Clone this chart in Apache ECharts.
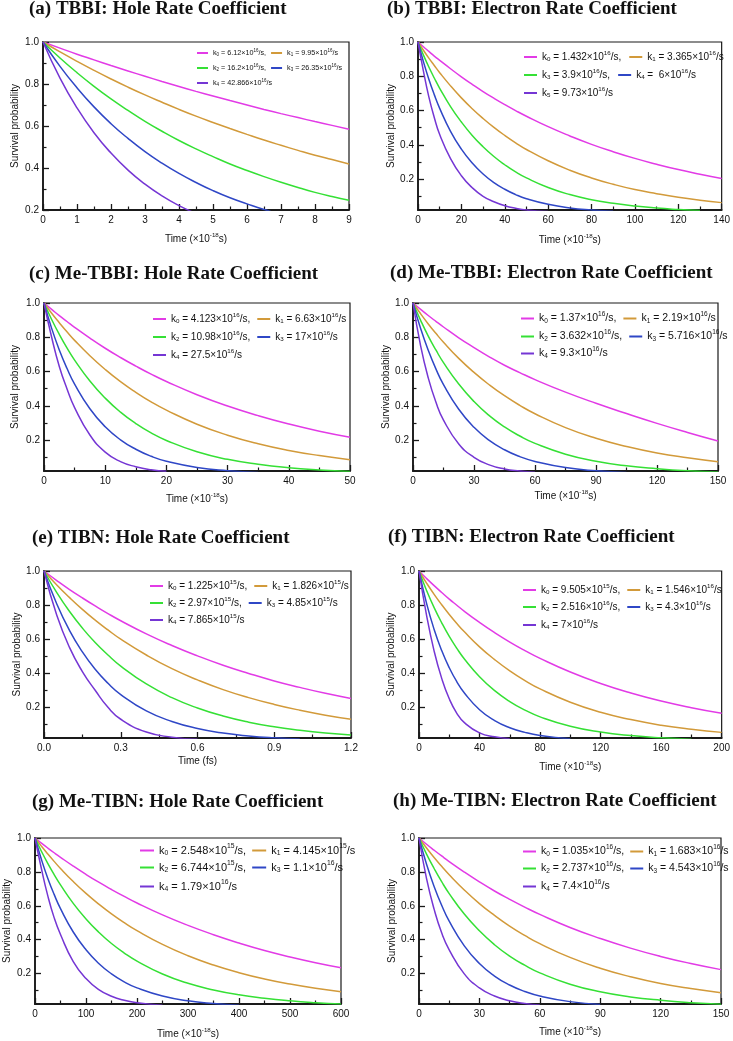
<!DOCTYPE html>
<html><head><meta charset="utf-8">
<script src="https://cdn.jsdelivr.net/npm/echarts@6/dist/echarts.min.js"></script>
<style>html,body{margin:0;padding:0;background:#fff}#c{width:733px;height:1041px}</style>
</head><body><div id="c"></div>
<script>
// ---------------- DATA ----------------
const titles = [
  '(a) TBBI: Hole Rate Coefficient', '(b) TBBI: Electron Rate Coefficient',
  '(c) Me-TBBI: Hole Rate Coefficient', '(d) Me-TBBI: Electron Rate Coefficient',
  '(e) TIBN: Hole Rate Coefficient', '(f) TIBN: Electron Rate Coefficient',
  '(g) Me-TIBN: Hole Rate Coefficient', '(h) Me-TIBN: Electron Rate Coefficient'
];
const yAxisName = 'Survival probability';
const xNames = ['Time (×10^-18s)','Time (×10^-18s)','Time (×10^-18s)','Time (×10^-18s)','Time (fs)','Time (×10^-18s)','Time (×10^-18s)','Time (×10^-18s)'];
const xMaxs = [9, 140, 50, 150, 1.2, 200, 600, 150];
const xSteps = [1, 20, 10, 30, 0.3, 40, 100, 30];
const yMins = [0.2, 0.02, 0.02, 0.02, 0.02, 0.02, 0.02, 0.02];
const yMajor = [0.2, 0.4, 0.6, 0.8, 1.0];
const yMinorFull = [0.1, 0.3, 0.5, 0.7, 0.9];

const legendA = ['k_0 = 6.12×10^16/s,', 'k_1 = 9.95×10^16/s', 'k_2 = 16.2×10^16/s,', 'k_3 = 26.35×10^16/s', 'k_4 = 42.866×10^16/s'];
const legendB = ['k_0 = 1.432×10^16/s,', 'k_1 = 3.365×10^16/s', 'k_3 = 3.9×10^16/s,', 'k_4 =  6×10^16/s', 'k_5 = 9.73×10^16/s'];
const legendC = ['k_0 = 4.123×10^16/s,', 'k_1 = 6.63×10^16/s', 'k_2 = 10.98×10^16/s,', 'k_3 = 17×10^16/s', 'k_4 = 27.5×10^16/s'];
const legendD = ['k_0 = 1.37×10^16/s,', 'k_1 = 2.19×10^16/s', 'k_2 = 3.632×10^16/s,', 'k_3 = 5.716×10^16/s', 'k_4 = 9.3×10^16/s'];
const legendE = ['k_0 = 1.225×10^15/s,', 'k_1 = 1.826×10^15/s', 'k_2 = 2.97×10^15/s,', 'k_3 = 4.85×10^15/s', 'k_4 = 7.865×10^15/s'];
const legendF = ['k_0 = 9.505×10^15/s,', 'k_1 = 1.546×10^16/s', 'k_2 = 2.516×10^16/s,', 'k_3 = 4.3×10^16/s', 'k_4 = 7×10^16/s'];
const legendG = ['k_0 = 2.548×10^15/s,', 'k_1 = 4.145×10^15/s', 'k_2 = 6.744×10^15/s,', 'k_3 = 1.1×10^16/s', 'k_4 = 1.79×10^16/s'];
const legendH = ['k_0 = 1.035×10^16/s,', 'k_1 = 1.683×10^16/s', 'k_2 = 2.737×10^16/s,', 'k_3 = 4.543×10^16/s', 'k_4 = 7.4×10^16/s'];

const timeA = [0,0.5,1,1.5,2,2.5,3,3.5,4,4.5,5,5.5,6,6.5,7,7.5,8,8.5,9];
const a0 = [1,0.971,0.942,0.915,0.888,0.862,0.837,0.812,0.788,0.765,0.743,0.721,0.700,0.679,0.659,0.640,0.621,0.603,0.585];
const a1 = [1,0.953,0.908,0.865,0.824,0.785,0.748,0.713,0.679,0.647,0.617,0.588,0.560,0.533,0.508,0.484,0.461,0.440,0.419];
const a2 = [1,0.924,0.854,0.789,0.729,0.674,0.622,0.575,0.531,0.491,0.454,0.419,0.388,0.359,0.332,0.307,0.284,0.264,0.246];
const a3 = [1,0.884,0.782,0.691,0.611,0.541,0.478,0.423,0.374,0.331,0.292,0.258,0.229,0.202,0.179,null,null,null,null];
const a4 = [1,0.828,0.686,0.568,0.471,0.390,0.323,0.267,0.221,0.183,null,null,null,null,null,null,null,null,null];

const timeB = [0,2.5,5,7.5,10,15,20,25,30,35,40,45,50,60,70,80,90,100,110,120,130,140];
const b0 = [1,0.972,0.945,0.918,0.893,0.844,0.797,0.753,0.711,0.672,0.635,0.600,0.567,0.506,0.452,0.403,0.360,0.321,0.287,0.256,0.229,0.204];
const b1 = [1,0.952,0.906,0.863,0.821,0.744,0.674,0.611,0.554,0.502,0.455,0.412,0.373,0.307,0.252,0.207,0.170,0.139,0.115,0.094,0.077,0.063];
const b2 = [1,0.924,0.854,0.790,0.730,0.623,0.533,0.455,0.389,0.332,0.284,0.242,0.207,0.151,0.110,0.080,0.059,0.043,0.031,0.023,0.017,null];
const b3 = [1,0.885,0.783,0.693,0.613,0.479,0.375,0.294,0.230,0.180,0.141,0.110,0.086,0.053,0.032,0.020,0.012,null,null,null,null,null];
const b4 = [1,0.83,0.68,0.56,0.46,0.32,0.22,0.15,0.10,0.068,0.045,0.030,0.020,0.011,null,null,null,null,null,null,null,null];

const timeC = [0,1.25,2.5,3.75,5,7.5,10,12.5,15,17.5,20,25,30,35,40,45,50];
const c0 = [1,0.963,0.926,0.892,0.858,0.795,0.736,0.682,0.632,0.585,0.542,0.465,0.399,0.343,0.294,0.252,0.217];
const c1 = [1,0.940,0.885,0.832,0.782,0.692,0.612,0.541,0.479,0.423,0.375,0.293,0.229,0.179,0.140,0.110,0.086];
const c2 = [1,0.904,0.817,0.738,0.667,0.545,0.445,0.363,0.297,0.242,0.198,0.132,0.088,0.059,0.039,0.026,0.017];
const c3 = [1,0.852,0.726,0.619,0.527,0.383,0.278,0.202,0.147,0.106,0.077,0.041,0.022,0.011,null,null,null];
const c4 = [1,0.80,0.63,0.50,0.39,0.23,0.13,0.075,0.045,0.027,0.018,null,null,null,null,null,null];

const timeD = [0,3.75,7.5,11.25,15,22.5,30,37.5,45,52.5,60,75,90,105,120,135,150];
const d0 = [1,0.963,0.927,0.893,0.860,0.797,0.740,0.686,0.637,0.594,0.553,0.480,0.415,0.355,0.298,0.245,0.195];
const d1 = [1,0.937,0.878,0.823,0.771,0.677,0.595,0.523,0.459,0.403,0.354,0.273,0.211,0.163,0.125,0.097,0.074];
const d2 = [1,0.899,0.807,0.726,0.652,0.527,0.425,0.343,0.277,0.224,0.181,0.118,0.077,0.050,0.033,0.021,0.014];
const d3 = [1,0.851,0.724,0.616,0.524,0.380,0.275,0.199,0.144,0.104,0.076,0.040,0.021,0.011,null,null,null];
const d4 = [1,0.75,0.563,0.422,0.317,0.178,0.100,0.056,0.032,0.020,0.012,null,null,null,null,null,null];

const timeE = [0,0.05,0.1,0.15,0.2,0.25,0.3,0.4,0.5,0.6,0.7,0.8,0.9,1.0,1.1,1.2];
const e0 = [1,0.944,0.891,0.842,0.795,0.750,0.708,0.631,0.563,0.502,0.447,0.399,0.355,0.317,0.282,0.252];
const e1 = [1,0.918,0.844,0.775,0.712,0.654,0.600,0.507,0.427,0.361,0.304,0.257,0.217,0.183,0.154,0.130];
const e2 = [1,0.873,0.762,0.665,0.580,0.507,0.442,0.337,0.257,0.196,0.149,0.113,0.086,0.066,0.050,0.038];
const e3 = [1,0.806,0.650,0.525,0.423,0.341,0.275,0.179,0.117,0.076,0.049,0.032,0.021,0.014,null,null];
const e4 = [1,0.74,0.55,0.41,0.30,0.20,0.13,0.055,0.025,0.012,null,null,null,null,null,null];

const timeF = [0,5,10,15,20,25,30,40,50,60,70,80,100,120,140,160,180,200];
const f0 = [1,0.956,0.914,0.874,0.835,0.799,0.763,0.698,0.638,0.583,0.533,0.487,0.407,0.340,0.284,0.237,0.198,0.165];
const f1 = [1,0.929,0.863,0.802,0.745,0.692,0.643,0.555,0.480,0.414,0.357,0.308,0.230,0.171,0.128,0.095,0.071,0.053];
const f2 = [1,0.886,0.785,0.696,0.616,0.546,0.484,0.380,0.298,0.234,0.184,0.144,0.089,0.055,0.034,0.021,0.013,null];
const f3 = [1,0.81,0.657,0.533,0.432,0.35,0.284,0.186,0.122,0.080,0.053,0.035,0.015,null,null,null,null,null];
const f4 = [1,0.74,0.53,0.37,0.25,0.165,0.11,0.05,0.027,0.016,null,null,null,null,null,null,null,null];

const timeG = [0,12.5,25,37.5,50,75,100,125,150,175,200,250,300,350,400,450,500,550,600];
const g0 = [1,0.970,0.941,0.913,0.886,0.834,0.785,0.739,0.696,0.655,0.616,0.546,0.484,0.429,0.380,0.336,0.298,0.264,0.234];
const g1 = [1,0.952,0.906,0.862,0.820,0.743,0.673,0.610,0.552,0.500,0.453,0.372,0.305,0.250,0.205,0.168,0.138,0.113,0.093];
const g2 = [1,0.922,0.850,0.784,0.723,0.614,0.522,0.444,0.377,0.321,0.273,0.197,0.142,0.103,0.074,0.054,0.039,0.028,0.020];
const g3 = [1,0.874,0.763,0.667,0.583,0.445,0.340,0.259,0.198,0.151,0.115,0.067,0.039,0.023,0.013,null,null,null,null];
const g4 = [1,0.82,0.66,0.53,0.43,0.27,0.17,0.105,0.066,0.042,0.028,0.012,null,null,null,null,null,null,null];

const timeH = [0,3.75,7.5,11.25,15,22.5,30,37.5,45,52.5,60,75,90,105,120,135,150];
const h0 = [1,0.963,0.928,0.894,0.861,0.799,0.741,0.687,0.638,0.592,0.549,0.472,0.407,0.350,0.301,0.259,0.223];
const h1 = [1,0.941,0.885,0.833,0.783,0.693,0.613,0.543,0.480,0.425,0.376,0.295,0.231,0.181,0.141,0.111,0.087];
const h2 = [1,0.905,0.820,0.742,0.672,0.551,0.452,0.370,0.303,0.249,0.204,0.137,0.092,0.062,0.042,0.028,0.019];
const h3 = [1,0.845,0.714,0.603,0.509,0.363,0.259,0.185,0.132,0.094,0.067,0.034,0.017,null,null,null,null];
const h4 = [1,0.76,0.58,0.44,0.34,0.198,0.115,0.067,0.039,0.023,0.014,null,null,null,null,null,null];

// ---------------- LAYOUT / STYLE ----------------
const panels = [
  {time: timeA, vals: [a0,a1,a2,a3,a4], legend: legendA},
  {time: timeB, vals: [b0,b1,b2,b3,b4], legend: legendB},
  {time: timeC, vals: [c0,c1,c2,c3,c4], legend: legendC},
  {time: timeD, vals: [d0,d1,d2,d3,d4], legend: legendD},
  {time: timeE, vals: [e0,e1,e2,e3,e4], legend: legendE},
  {time: timeF, vals: [f0,f1,f2,f3,f4], legend: legendF},
  {time: timeG, vals: [g0,g1,g2,g3,g4], legend: legendG},
  {time: timeH, vals: [h0,h1,h2,h3,h4], legend: legendH}
];
const layout = [
  {grid:[43,42,306,168],  title:[29,9.5],  lg:{x:197,rows:[53,68,83],fs:7.2,iw:11,gap:1}, yGap:23, xGap:22},
  {grid:[418,42,306,168], title:[387,9.5], lg:{x:524,rows:[57,75,93],fs:10,iw:13,gap:4}, yGap:20, xGap:23},
  {grid:[44,303,306,168], title:[29,274],  lg:{x:153,rows:[319,337,355],fs:10,iw:13,gap:3}, yGap:24, xGap:21},
  {grid:[413,303,305,168],title:[390,273.5],lg:{x:521,rows:[319,337,354],fs:10.5,iw:13,gap:3}, yGap:21, xGap:18},
  {grid:[44,571,307,167], title:[32,538.5],lg:{x:150,rows:[586,603,620],fs:10,iw:13,gap:3}, yGap:21, xGap:18},
  {grid:[419,571,303,167],title:[388,537], lg:{x:523,rows:[590,607,625],fs:10,iw:13,gap:3}, yGap:23, xGap:22},
  {grid:[35,838,306,166], title:[32,802.5],lg:{x:140,rows:[851,868,887],fs:11,iw:14,gap:2}, yGap:23, xGap:23},
  {grid:[419,838,302,166],title:[393,801.5],lg:{x:523,rows:[852,869,887],fs:10.5,iw:13,gap:2}, yGap:20, xGap:21}
];
const colors = ['#e23be6', '#d29a3a', '#35e035', '#2f47c6', '#7536d4'];
const FONT = '"Liberation Sans", Arial, sans-serif';
const AX = '#1a1a1a';

function rich(s) {
  return s.split(/(_\d|\^-?\d+)/).filter(p => p).map(p =>
    p[0] === '_' ? '{sub|' + p.slice(1) + '}' :
    p[0] === '^' ? '{sup|' + p.slice(1) + '}' : '{t|' + p + '}').join('');
}
function richStyles(fs) {
  const small = Math.round(fs * 0.62 * 10) / 10;
  return {
    t: {fontSize: fs, fontFamily: FONT, color: '#111', verticalAlign: 'middle'},
    sub: {fontSize: small, fontFamily: FONT, color: '#111', verticalAlign: 'middle', padding: [Math.round(fs * 0.5), 0, 0, 0]},
    sup: {fontSize: small, fontFamily: FONT, color: '#111', verticalAlign: 'middle', padding: [0, 0, Math.round(fs * 0.75), 0]}
  };
}

const grid = [], xAxis = [], yAxis = [], series = [], legend = [], graphic = [];
const labelMap = {};

panels.forEach((p, i) => {
  const L = layout[i];
  const [gl, gt, gw, gh] = L.grid;
  const yMin = yMins[i];
  grid.push({left: gl, top: gt, width: gw, height: gh, show: true, borderColor: AX, borderWidth: 1.2, backgroundColor: 'transparent'});
  grid.push({left: gl, top: gt, width: gw, height: gh, show: false});
  const gMain = 2 * i, gOver = 2 * i + 1;
  const step = xSteps[i];
  xAxis.push({
    type: 'value', gridIndex: gMain, min: 0, max: xMaxs[i], interval: step,
    axisLine: {onZero: false, lineStyle: {color: AX, width: 1.8}},
    axisTick: {inside: true, length: 6, lineStyle: {color: AX, width: 1.3}},
    minorTick: {show: true, splitNumber: 2, length: 3.5, lineStyle: {color: AX, width: 1.2}},
    splitLine: {show: false}, minorSplitLine: {show: false},
    axisLabel: {fontSize: 10, color: '#111', fontFamily: FONT, margin: 5,
      formatter: v => step < 1 ? v.toFixed(1) : String(Math.round(v))},
    name: rich(xNames[i]), nameLocation: 'middle', nameGap: L.xGap,
    nameTextStyle: {rich: richStyles(10)}
  });
  xAxis.push({type: 'value', gridIndex: gOver, min: 0, max: xMaxs[i], show: false});
  yAxis.push({
    type: 'value', gridIndex: gMain, min: yMin, max: 1.0,
    axisLine: {onZero: false, lineStyle: {color: AX, width: 1.8}},
    axisTick: {inside: true, length: 6, lineStyle: {color: AX, width: 1.3}, customValues: yMajor},
    splitLine: {show: false},
    axisLabel: {fontSize: 10, color: '#111', fontFamily: FONT, margin: 4, customValues: yMajor,
      formatter: v => Number(v).toFixed(1)},
    name: yAxisName, nameLocation: 'middle', nameGap: L.yGap,
    nameTextStyle: {fontSize: 10, color: '#111', fontFamily: FONT}
  });
  yAxis.push({
    type: 'value', gridIndex: gOver, min: yMin, max: 1.0,
    axisLine: {show: false},
    axisTick: {show: true, inside: true, length: 3.5, lineStyle: {color: AX, width: 1.2},
      customValues: yMinorFull.filter(v => v > yMin)},
    axisLabel: {show: false}, splitLine: {show: false}
  });
  const names = [];
  p.vals.forEach((vals, k) => {
    const name = 'p' + i + 'k' + k;
    names.push(name);
    labelMap[name] = rich(p.legend[k]);
    const data = [];
    p.time.forEach((t, j) => { if (vals[j] !== null) data.push([t, vals[j]]); });
    series.push({
      type: 'line', name, xAxisIndex: gMain, yAxisIndex: gMain, data,
      showSymbol: false, symbol: 'none', smooth: 0.5,
      lineStyle: {color: colors[k], width: 1.5}, itemStyle: {color: colors[k]},
      clip: true, z: 3 + k
    });
  });
  const rows = [[names[0], names[1]], [names[2], names[3]], [names[4]]];
  rows.forEach((r, ri) => {
    legend.push({
      left: L.lg.x, top: L.lg.rows[ri] - Math.round(L.lg.fs * 0.72), padding: 0,
      itemGap: L.lg.gap + 4, itemWidth: L.lg.iw, itemHeight: 2, icon: 'rect',
      selectedMode: false, data: r,
      formatter: n => labelMap[n],
      textStyle: {rich: richStyles(L.lg.fs), fontSize: L.lg.fs, fontFamily: FONT}
    });
  });
  graphic.push({
    type: 'text', x: L.title[0], y: L.title[1],
    style: {text: titles[i], font: 'bold 19px "Liberation Serif", "Times New Roman", serif',
      fill: '#111', textAlign: 'left', textVerticalAlign: 'middle'}
  });
});

const chart = echarts.init(document.getElementById('c'), null, {renderer: 'canvas'});
chart.setOption({
  animation: false, backgroundColor: '#fff',
  grid, xAxis, yAxis, series, legend, graphic
});
</script>
</body></html>
